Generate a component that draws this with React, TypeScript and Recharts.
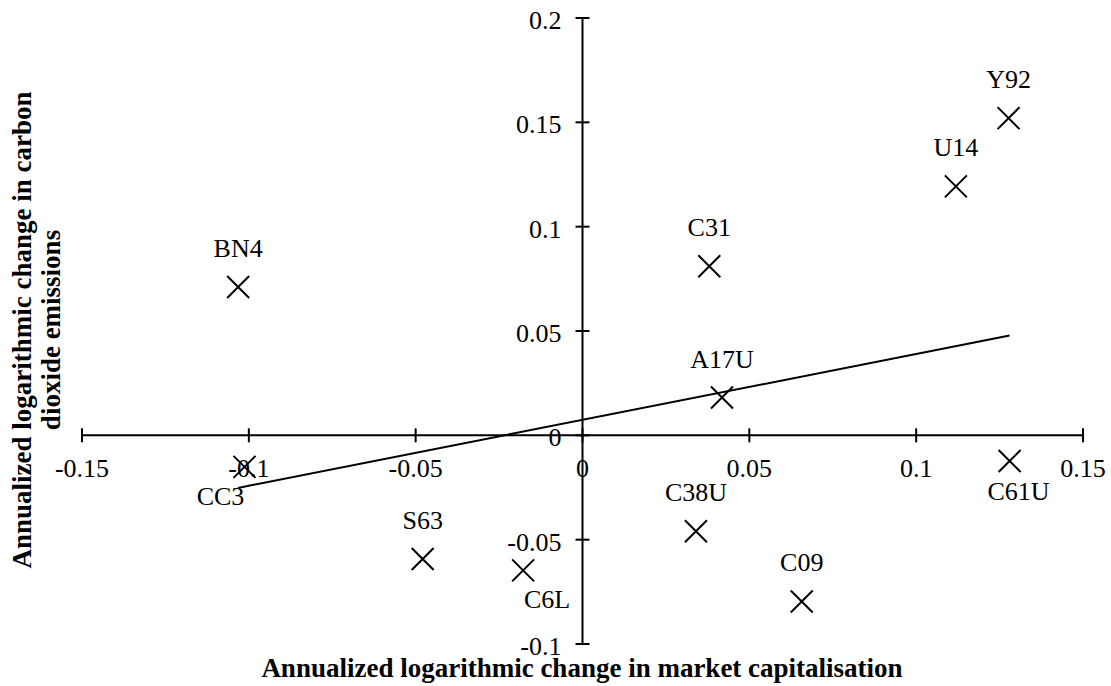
import { ScatterChart, Scatter, XAxis, YAxis, ReferenceLine, ReferenceDot } from "recharts"

// ticker codes and their annualized log changes
const COMPANIES = ["BN4", "CC3", "S63", "C6L", "C31", "A17U", "C38U", "C09", "U14", "Y92", "C61U"]
const MARKET_CAP_CHANGE = [-0.1032, -0.1013, -0.0479, -0.0178, 0.038, 0.0418, 0.034, 0.0657, 0.1119, 0.1277, 0.128]
const EMISSIONS_CHANGE = [0.0711, -0.0151, -0.0593, -0.0647, 0.081, 0.0181, -0.046, -0.0796, 0.1193, 0.152, -0.0123]
const LABEL_SIDE = ["top", "bottom-left", "top", "bottom-right", "top", "top", "top", "top", "top", "top", "bottom"]

// linear trend line end points
const TREND_X = [-0.1033, 0.128]
const TREND_Y = [-0.0252, 0.0478]

const X_TICKS = [-0.15, -0.1, -0.05, 0, 0.05, 0.1, 0.15]
const Y_TICKS = [-0.1, -0.05, 0, 0.05, 0.1, 0.15, 0.2]

const FONT = "Liberation Serif, Times New Roman, serif"
const INK = "#000"

const points = COMPANIES.map((name, i) => ({
  name,
  x: MARKET_CAP_CHANGE[i],
  y: EMISSIONS_CHANGE[i],
  side: LABEL_SIDE[i],
}))

const trend = TREND_X.map((x, i) => ({ x, y: TREND_Y[i] }))

const LABEL_OFFSET: Record<string, { dx: number; dy: number }> = {
  top: { dx: 0, dy: -30 },
  "bottom-left": { dx: -24, dy: 38 },
  "bottom-right": { dx: 24, dy: 38 },
  bottom: { dx: 9, dy: 39 },
}

const txt = (size: number, bold = false) => ({
  fontFamily: FONT,
  fontSize: size,
  fontWeight: bold ? 700 : 400,
  fill: INK,
})

function CrossMarker(props: any) {
  const { cx, cy, payload } = props
  if (cx == null || cy == null) return <g />
  const s = 11
  const off = LABEL_OFFSET[payload?.side] ?? LABEL_OFFSET.top
  return (
    <g>
      <path
        d={`M${cx - s},${cy - s}L${cx + s},${cy + s}M${cx - s},${cy + s}L${cx + s},${cy - s}`}
        stroke={INK}
        strokeWidth={2}
        fill="none"
      />
      <text x={cx + off.dx} y={cy + off.dy} textAnchor="middle" style={txt(26)}>
        {payload?.name}
      </text>
    </g>
  )
}

function XTick(props: any) {
  const { cx, cy, label } = props
  return (
    <g>
      <line x1={cx} x2={cx} y1={cy - 7} y2={cy + 7} stroke={INK} strokeWidth={2} />
      <text x={cx} y={cy + 42} textAnchor="middle" style={txt(26)}>
        {label}
      </text>
    </g>
  )
}

function YTick(props: any) {
  const { cx, cy, label } = props
  return (
    <g>
      <line x1={cx - 7} x2={cx + 7} y1={cy} y2={cy} stroke={INK} strokeWidth={2} />
      <text x={cx - 21} y={cy + 11} textAnchor="end" style={txt(26)}>
        {label}
      </text>
    </g>
  )
}

export default function App() {
  return (
    <div style={{ position: "absolute", left: 0, top: 0, width: 1111, height: 686, background: "#fff" }}>
      <ScatterChart width={1111} height={686} margin={{ top: 18, right: 28, bottom: 42, left: 82 }}>
        <XAxis type="number" dataKey="x" domain={[-0.15, 0.15]} hide allowDataOverflow />
        <YAxis type="number" dataKey="y" domain={[-0.1, 0.2]} hide allowDataOverflow />

        <ReferenceLine x={0} stroke={INK} strokeWidth={2} />
        <ReferenceLine y={0} stroke={INK} strokeWidth={2} />
        {X_TICKS.map((t) => (
          <ReferenceDot
            key={`xt${t}`}
            x={t}
            y={0}
            ifOverflow="visible"
            shape={(p: any) => <XTick {...p} label={String(t)} />}
          />
        ))}
        {Y_TICKS.map((t) => (
          <ReferenceDot
            key={`yt${t}`}
            x={0}
            y={t}
            ifOverflow="visible"
            shape={(p: any) => <YTick {...p} label={String(t)} />}
          />
        ))}

        <Scatter data={points} shape={CrossMarker} isAnimationActive={false} />
        <Scatter
          data={trend}
          line={{ stroke: INK, strokeWidth: 2 }}
          lineType="joint"
          shape={() => <g />}
          isAnimationActive={false}
        />

        <text x={582} y={677} textAnchor="middle" style={txt(27, true)}>
          Annualized logarithmic change in market capitalisation
        </text>
        <text transform="translate(31,330) rotate(-90)" textAnchor="middle" style={txt(27, true)}>
          Annualized logarithmic change in carbon
        </text>
        <text transform="translate(60,330) rotate(-90)" textAnchor="middle" style={txt(27, true)}>
          dioxide emissions
        </text>
      </ScatterChart>
    </div>
  )
}
